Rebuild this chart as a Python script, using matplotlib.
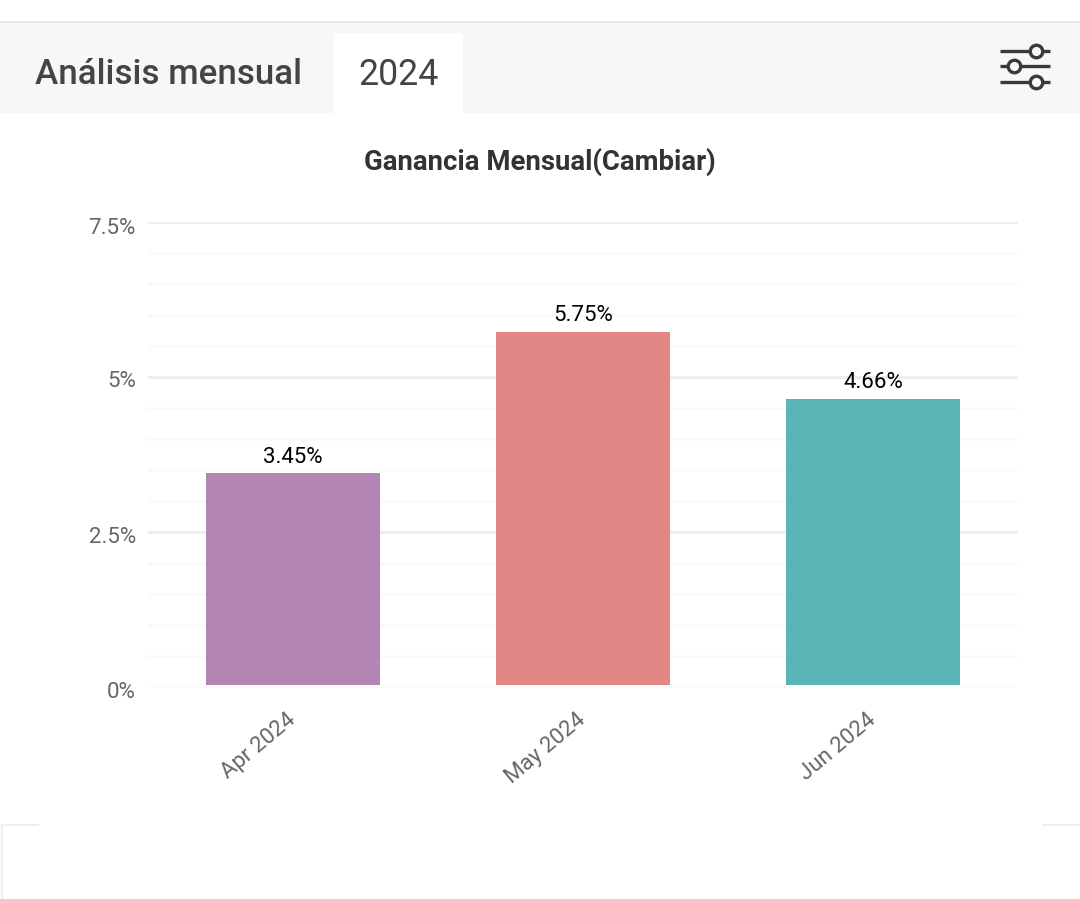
import matplotlib
matplotlib.use("Agg")
import matplotlib.pyplot as plt
from matplotlib.patches import Rectangle

plt.rcParams['font.family'] = ['Roboto', 'DejaVu Sans']

months = ["Apr 2024", "May 2024", "Jun 2024"]
gains = [3.45, 5.75, 4.66]
value_labels = ["3.45%", "5.75%", "4.66%"]
bar_colors = ["#b385b3", "#e28785", "#5bb4b5"]
major_ticks = [0, 2.5, 5, 7.5]
major_labels = ["0%", "2.5%", "5%", "7.5%"]
minor_ticks = [0.5, 1, 1.5, 2, 3, 3.5, 4, 4.5, 5.5, 6, 6.5, 7]
# the labels sit a little under their gridlines
label_shift = [5, 5, 5, 7]

W, H = 1080, 899
fig = plt.figure(figsize=(W/100, H/100), dpi=100, facecolor="white")

# page furniture, in pixel coordinates
page = fig.add_axes([0, 0, 1, 1])
page.set_xlim(0, W)
page.set_ylim(H, 0)
page.axis("off")
page.add_patch(Rectangle((0, 21), W, 2, color="#e8e8e8", lw=0))
page.add_patch(Rectangle((0, 23), W, 90, color="#f7f7f7", lw=0))
page.add_patch(Rectangle((334, 33), 129, 80, color="white", lw=0))
page.text(35, 71, "Análisis mensual", fontsize=25.2, fontweight="medium", color="#444444", va="center_baseline")
page.text(399, 71, "2024", fontsize=25.7, color="#444444", ha="center", va="center_baseline")
page.text(540, 159, "Ganancia Mensual(Cambiar)", fontsize=19.8, fontweight="bold", color="#333333",
          ha="center", va="center_baseline")

for y, x in [(50.5, 1036), (66, 1014), (82, 1036)]:
    page.plot([1000, 1050], [y, y], color="#3a3a3a", lw=2.4, solid_capstyle="butt")
    page.plot([x], [y], "o", ms=9, mfc="#f7f7f7", mec="#3a3a3a", mew=2.4)

page.plot([1.5, 1.5, 38], [H, 824.5, 824.5], color="#eeeeee", lw=1.5)
page.plot([1043, W], [824.5, 824.5], color="#eeeeee", lw=1.5)

# grid axis
grid_ax = fig.add_axes([148/W, 1 - 687.5/H, 870/W, 466/H], facecolor="none")
grid_ax.set_xlim(-0.5, 2.5)
grid_ax.set_ylim(0, 7.5)
for s in grid_ax.spines.values():
    s.set_visible(False)
grid_ax.set_yticks(major_ticks)
grid_ax.set_yticklabels([])
grid_ax.set_yticks(minor_ticks, minor=True)
grid_ax.tick_params(axis="y", which="both", length=0)
grid_ax.grid(True, axis="y", which="major", color="#eeeeee", lw=2.2)
grid_ax.grid(True, axis="y", which="minor", color="#f9f9f9", lw=1.8)
grid_ax.set_axisbelow(True)
# the baseline is much fainter than the other major lines
grid_ax.get_ygridlines()[0].set_color("#f8f8f8")
grid_ax.get_ygridlines()[0].set_linewidth(1.2)
grid_ax.set_xticks(range(len(months)))
grid_ax.set_xticklabels([])
grid_ax.tick_params(axis="x", length=0)
for v, lab, dy in zip(major_ticks, major_labels, label_shift):
    grid_ax.annotate(lab, (0, v), xycoords=grid_ax.get_yaxis_transform(), xytext=(-8.7, -dy*0.72),
                     textcoords="offset points", ha="right", va="center", fontsize=16, color="#666666")

# bars use their own scale, they stop just above the 0% line in the original
bar_ax = fig.add_axes([148/W, 1 - 685/H, 870/W, 460/H], facecolor="none")
bar_ax.set_xlim(-0.5, 2.5)
bar_ax.set_ylim(0, 460/61.4)
bar_ax.axis("off")
bars = bar_ax.bar(months, gains, width=0.6, color=bar_colors)
bar_ax.bar_label(bars, labels=value_labels, padding=4, fontsize=16, color="black")

for i, m in enumerate(months):
    grid_ax.annotate(m, (i, 0), xycoords=grid_ax.get_xaxis_transform(), xytext=(-5, -15.5),
                     textcoords="offset points", rotation=40, ha="right", va="top",
                     rotation_mode="anchor", fontsize=16, color="#666666")

fig.savefig("out.png", dpi=100)
